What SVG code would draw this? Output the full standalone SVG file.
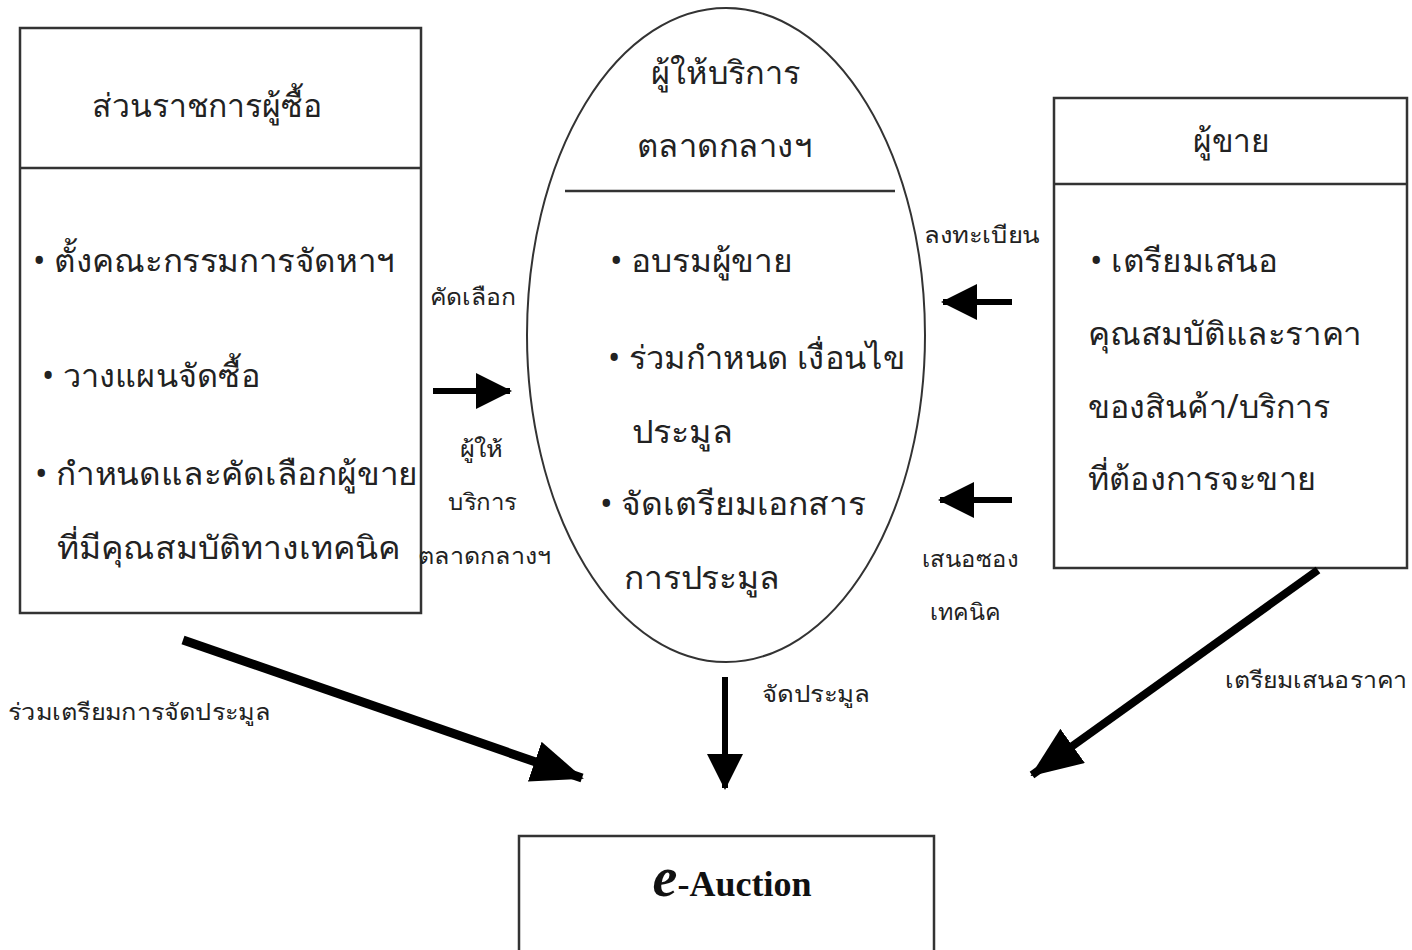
<svg xmlns="http://www.w3.org/2000/svg" width="1412" height="950" viewBox="0 0 1412 950">
<defs>
<style>
.box{fill:#fff;stroke:#333;stroke-width:2.5}
.div{stroke:#333;stroke-width:2.5}
.t{font-family:"Noto Sans","DejaVu Sans",sans-serif;font-size:32px;fill:#222}
.s{font-family:"Noto Sans","DejaVu Sans",sans-serif;font-size:23px;fill:#222}
.c{text-anchor:middle}
.ln{stroke:#000;fill:none}
</style>
<marker id="ah" markerUnits="userSpaceOnUse" markerWidth="36" markerHeight="36" refX="34" refY="18" orient="auto" viewBox="0 0 36 36">
<path d="M0,0 L36,18 L0,36 z" fill="#000"/>
</marker>
<marker id="ahL" markerUnits="userSpaceOnUse" markerWidth="52" markerHeight="42" refX="50" refY="21" orient="auto" viewBox="0 0 52 42">
<path d="M0,0 L52,21 L0,42 z" fill="#000"/>
</marker>
</defs>
<rect width="1412" height="950" fill="#fff"/>
<g id="buyer">
<rect class="box" x="20" y="28" width="401" height="585"/>
<line class="div" x1="20" y1="168" x2="421" y2="168"/>
<text class="t" x="92" y="117" textLength="230" lengthAdjust="spacingAndGlyphs">ส่วนราชการผู้ซื้อ</text>
<text class="t" x="33" y="272" textLength="362" lengthAdjust="spacingAndGlyphs">• ตั้งคณะกรรมการจัดหาฯ</text>
<text class="t" x="42" y="387" textLength="218" lengthAdjust="spacingAndGlyphs">• วางแผนจัดซื้อ</text>
<text class="t" x="35" y="485" textLength="383" lengthAdjust="spacingAndGlyphs">• กำหนดและคัดเลือกผู้ขาย</text>
<text class="t" x="57" y="559" textLength="343" lengthAdjust="spacingAndGlyphs">ที่มีคุณสมบัติทางเทคนิค</text>
</g>
<g id="provider">
<ellipse class="box" cx="726" cy="335" rx="199" ry="327" style="stroke-width:2"/>
<line class="div" x1="565" y1="191" x2="895" y2="191"/>
<text class="t" x="651" y="84" textLength="149" lengthAdjust="spacingAndGlyphs">ผู้ให้บริการ</text>
<text class="t" x="637" y="157" textLength="175" lengthAdjust="spacingAndGlyphs">ตลาดกลางฯ</text>
<text class="t" x="610" y="272" textLength="183" lengthAdjust="spacingAndGlyphs">• อบรมผู้ขาย</text>
<text class="t" x="608" y="369" textLength="297" lengthAdjust="spacingAndGlyphs">• ร่วมกำหนด เงื่อนไข</text>
<text class="t" x="632" y="443" textLength="101" lengthAdjust="spacingAndGlyphs">ประมูล</text>
<text class="t" x="600" y="515" textLength="266" lengthAdjust="spacingAndGlyphs">• จัดเตรียมเอกสาร</text>
<text class="t" x="624" y="589" textLength="156" lengthAdjust="spacingAndGlyphs">การประมูล</text>
</g>
<g id="seller">
<rect class="box" x="1054" y="98" width="353" height="470"/>
<line class="div" x1="1054" y1="184" x2="1407" y2="184"/>
<text class="t" x="1193" y="152" textLength="77" lengthAdjust="spacingAndGlyphs">ผู้ขาย</text>
<text class="t" x="1090" y="272" textLength="188" lengthAdjust="spacingAndGlyphs">• เตรียมเสนอ</text>
<text class="t" x="1088" y="345" textLength="274" lengthAdjust="spacingAndGlyphs">คุณสมบัติและราคา</text>
<text class="t" x="1088" y="418" textLength="242" lengthAdjust="spacingAndGlyphs">ของสินค้า/บริการ</text>
<text class="t" x="1088" y="490" textLength="228" lengthAdjust="spacingAndGlyphs">ที่ต้องการจะขาย</text>
</g>
<g id="eauction">
<rect class="box" x="519" y="836" width="415" height="130"/>
<text x="732" y="896" text-anchor="middle" font-family="'Liberation Serif',serif" fill="#111"><tspan font-size="56" font-style="italic" font-weight="bold">e</tspan><tspan font-size="36" font-weight="bold">-Auction</tspan></text>
</g>
<g id="connectors">
<line class="ln" x1="433" y1="391" x2="510" y2="391" stroke-width="6" marker-end="url(#ah)"/>
<line class="ln" x1="1012" y1="302" x2="943" y2="302" stroke-width="6" marker-end="url(#ah)"/>
<line class="ln" x1="1012" y1="500" x2="940" y2="500" stroke-width="6" marker-end="url(#ah)"/>
<line class="ln" x1="725" y1="677" x2="725" y2="788" stroke-width="6" marker-end="url(#ah)"/>
<line class="ln" x1="183" y1="640" x2="582" y2="778" stroke-width="9" marker-end="url(#ahL)"/>
<line class="ln" x1="1318" y1="570" x2="1032" y2="775" stroke-width="8" marker-end="url(#ahL)"/>
<text class="s" x="430" y="305" textLength="86" lengthAdjust="spacingAndGlyphs">คัดเลือก</text>
<text class="s" x="460" y="457" textLength="43" lengthAdjust="spacingAndGlyphs">ผู้ให้</text>
<text class="s" x="448" y="510" textLength="69" lengthAdjust="spacingAndGlyphs">บริการ</text>
<text class="s" x="418" y="564" textLength="133" lengthAdjust="spacingAndGlyphs">ตลาดกลางฯ</text>
<text class="s" x="924" y="243" textLength="116" lengthAdjust="spacingAndGlyphs">ลงทะเบียน</text>
<text class="s" x="922" y="567" textLength="96" lengthAdjust="spacingAndGlyphs">เสนอซอง</text>
<text class="s" x="930" y="620" textLength="70" lengthAdjust="spacingAndGlyphs">เทคนิค</text>
<text class="s" x="762" y="702" textLength="108" lengthAdjust="spacingAndGlyphs">จัดประมูล</text>
<text class="s" x="8" y="720" textLength="262" lengthAdjust="spacingAndGlyphs">ร่วมเตรียมการจัดประมูล</text>
<text class="s" x="1225" y="688" textLength="182" lengthAdjust="spacingAndGlyphs">เตรียมเสนอราคา</text>
</g>
</svg>
